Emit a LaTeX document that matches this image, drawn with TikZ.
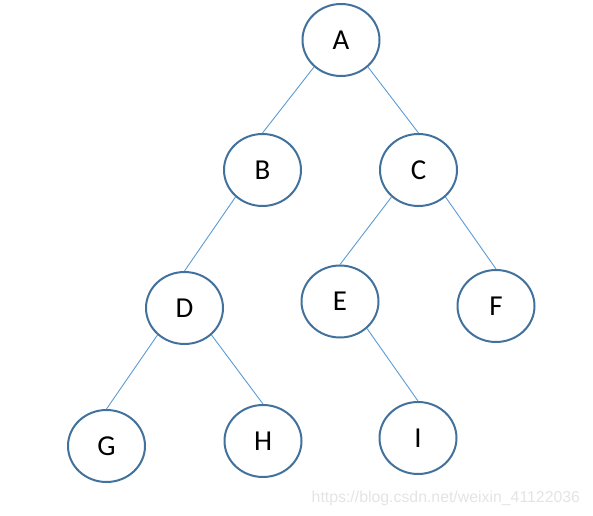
\documentclass[tikz,border=0pt]{standalone}
\usepackage{fontspec}
\setmainfont{Carlito}
\newfontfamily\wmfont{Liberation Sans}
\definecolor{nodeline}{HTML}{41719C}
\definecolor{edgeline}{HTML}{5B9BD5}
\definecolor{wmgray}{HTML}{E4E4E4}
\tikzset{
  treenode/.style={ellipse, draw=nodeline, line width=2bp, minimum width=77bp, minimum height=72bp, inner sep=0pt, font=\fontsize{29}{29}\selectfont, text=black},
  treeedge/.style={draw=edgeline, line width=0.9bp},
}
\usetikzlibrary{shapes.geometric}
\begin{document}
\begin{tikzpicture}[x=1bp,y=-1bp]
\useasboundingbox (0,0) rectangle (593,516);
\node[treenode] (A) at (341,40) {\raisebox{-1.5bp}{A}};
\node[treenode] (B) at (262.5,170) {\raisebox{-1.5bp}{B}};
\node[treenode] (C) at (418.5,170) {\raisebox{-1.5bp}{C}};
\node[treenode] (D) at (184.5,308) {\raisebox{-1.5bp}{D}};
\node[treenode] (E) at (340,301.5) {\raisebox{-1.5bp}{E}};
\node[treenode] (F) at (496,306) {\raisebox{-1.5bp}{F}};
\node[treenode] (G) at (106.5,446) {\raisebox{-1.5bp}{G}};
\node[treenode] (H) at (263,441) {\raisebox{-1.5bp}{H}};
\node[treenode] (I) at (418,438) {\raisebox{-1.5bp}{I}};
\draw[treeedge] (A.225) -- (B.north);
\draw[treeedge] (A.315) -- (C.north);
\draw[treeedge] (B.225) -- (D.north);
\draw[treeedge] (C.225) -- (E.north);
\draw[treeedge] (C.315) -- (F.north);
\draw[treeedge] (D.225) -- (G.north);
\draw[treeedge] (D.315) -- (H.north);
\draw[treeedge] (E.315) -- (I.north);
\node[anchor=west, inner sep=0pt, text=wmgray, font=\wmfont\fontsize{15.9}{16}\selectfont] (wm) at (311.5,498) {https://blog.csdn.net/weixin\_41122036};
\end{tikzpicture}
\end{document}
